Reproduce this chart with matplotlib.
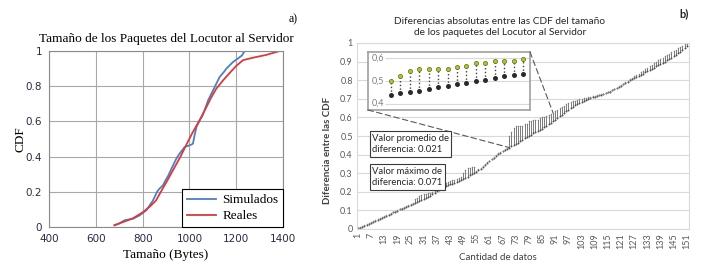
import matplotlib
matplotlib.use('Agg')
import matplotlib.pyplot as plt
from matplotlib.patches import ConnectionPatch
import numpy as np

W, H = 709, 273

# panel a) CDF curves
sim_x = [680, 700, 723, 759, 787, 816, 844, 862, 870, 887, 900, 909, 930, 945, 958, 980,
         1001, 1015, 1022, 1030, 1044, 1055, 1065, 1080, 1101, 1129, 1150, 1158, 1186,
         1208, 1225, 1236, 1386]
sim_y = [0.01, 0.02, 0.038, 0.047, 0.066, 0.095, 0.15, 0.20, 0.215, 0.237, 0.27, 0.29, 0.35,
         0.39, 0.417, 0.455, 0.464, 0.473, 0.52, 0.568, 0.606, 0.63, 0.663, 0.72, 0.776,
         0.852, 0.885, 0.9, 0.937, 0.958, 0.975, 1.0, 1.0]
real_x = [680, 720, 760, 802, 830, 857, 878, 906, 935, 962, 988, 1013, 1045, 1072, 1095,
          1115, 1145, 1172, 1200, 1229, 1272, 1329, 1386]
real_y = [0.01, 0.03, 0.05, 0.085, 0.115, 0.15, 0.20, 0.265, 0.335, 0.40, 0.47, 0.535, 0.61,
          0.68, 0.74, 0.786, 0.835, 0.875, 0.915, 0.948, 0.962, 0.978, 1.0]

# panel b) the two CDFs per data point
cats = np.arange(1, 152)
cdf_low = [0.005, 0.008, 0.012, 0.018, 0.022, 0.027, 0.032, 0.038, 0.043, 0.049,
           0.054, 0.060, 0.066, 0.071, 0.077, 0.083, 0.089, 0.094, 0.099, 0.105,
           0.110, 0.115, 0.120, 0.125, 0.130, 0.135, 0.140, 0.145, 0.150, 0.155,
           0.160, 0.165, 0.172, 0.180, 0.188, 0.196, 0.204, 0.212, 0.220,
           0.228, 0.232, 0.236, 0.240, 0.244, 0.248, 0.253, 0.258, 0.264, 0.270, 0.276,
           0.282, 0.288, 0.294, 0.300, 0.308, 0.316, 0.325, 0.334, 0.344, 0.354,
           0.364, 0.374, 0.384, 0.393, 0.401, 0.409, 0.417, 0.424, 0.431,
           0.438, 0.445, 0.453, 0.457, 0.465, 0.472, 0.480, 0.487, 0.493, 0.500,
           0.506, 0.514, 0.520, 0.528, 0.533,
           0.540, 0.547, 0.555, 0.563, 0.571, 0.580, 0.588, 0.597, 0.606, 0.615,
           0.624, 0.633, 0.641, 0.650, 0.658, 0.666,
           0.672, 0.678, 0.684, 0.689, 0.694, 0.699, 0.704, 0.708, 0.712, 0.715,
           0.718, 0.721, 0.725, 0.729, 0.734, 0.739, 0.745, 0.751, 0.757, 0.764,
           0.771, 0.778, 0.785, 0.792, 0.799,
           0.805, 0.811, 0.817, 0.823, 0.830, 0.836, 0.843, 0.849, 0.855, 0.861,
           0.867, 0.874, 0.880, 0.887, 0.894, 0.900, 0.907, 0.914, 0.921, 0.928,
           0.936, 0.945, 0.954, 0.964, 0.975, 0.985]
cdf_high = [0.007, 0.011, 0.016, 0.021, 0.027, 0.031, 0.038, 0.042, 0.049, 0.053,
            0.060, 0.064, 0.071, 0.075, 0.082, 0.087, 0.094, 0.098, 0.104, 0.109,
            0.115, 0.119, 0.125, 0.130, 0.136, 0.142, 0.160, 0.168, 0.176, 0.182,
            0.186, 0.190, 0.192, 0.195, 0.198, 0.203, 0.209, 0.216, 0.224,
            0.245, 0.250, 0.254, 0.258, 0.262, 0.265, 0.268, 0.272, 0.277, 0.300, 0.318,
            0.326, 0.330, 0.332, 0.333, 0.312, 0.320, 0.329, 0.338, 0.348, 0.358,
            0.368, 0.378, 0.388, 0.398, 0.406, 0.414, 0.422, 0.429, 0.436,
            0.500, 0.522, 0.543, 0.555, 0.555, 0.555, 0.555, 0.562, 0.567, 0.580,
            0.580, 0.588, 0.588, 0.588, 0.597,
            0.600, 0.603, 0.606, 0.612, 0.618, 0.625, 0.632, 0.640, 0.648, 0.655,
            0.663, 0.670, 0.676, 0.682, 0.686, 0.690,
            0.694, 0.697, 0.700, 0.703, 0.706, 0.709, 0.712, 0.714, 0.716, 0.718,
            0.721, 0.724, 0.728, 0.732, 0.737, 0.742, 0.748, 0.754, 0.760, 0.767,
            0.774, 0.781, 0.789, 0.797, 0.805,
            0.812, 0.820, 0.828, 0.836, 0.844, 0.852, 0.860, 0.868, 0.876, 0.884,
            0.892, 0.900, 0.908, 0.915, 0.922, 0.929, 0.936, 0.943, 0.950, 0.957,
            0.964, 0.971, 0.978, 0.985, 0.992, 1.000]
zoom_from, zoom_to = 70, 84      # points shown in the inset
link_to = 90                     # where the right zoom line lands
mean_text = 'Valor promedio de\ndiferencia: 0.021'
max_text = 'Valor máximo de\ndiferencia: 0.071'

low = np.array(cdf_low)
high = np.array(cdf_high)


def px_rect(l, t, r, b):
    return [l / W, 1 - b / H, (r - l) / W, (b - t) / H]


serif = 'Liberation Serif'
sans = 'Lato'

fig = plt.figure(figsize=(W / 100, H / 100), dpi=100)

# ---------- a)
ax1 = fig.add_axes(px_rect(49, 51, 283, 227))
ax1.plot(sim_x, sim_y, color='#4a7fc8', lw=1.3, label='Simulados')
ax1.plot(real_x, real_y, color='#d93a3a', lw=1.3, label='Reales')
ax1.set_xlim(400, 1400)
ax1.set_ylim(0, 1)
ax1.set_xticks(np.arange(400, 1401, 200))
ax1.set_yticks(np.arange(0, 1.01, 0.2))
ax1.set_yticklabels(['0', '0.2', '0.4', '0.6', '0.8', '1'])
ax1.grid(color='#a8a8a8', lw=0.8)
ax1.set_axisbelow(True)
for s in ax1.spines.values():
    s.set_color('#8a8a8a')
ax1.tick_params(length=0, labelsize=7.5, colors='#2a2a48', pad=5)
ax1.legend(loc='lower right', borderaxespad=0, fancybox=False, framealpha=1,
           edgecolor='black', handlelength=2.2, handletextpad=0.5,
           borderpad=0.35, labelspacing=0.3,
           prop={'family': serif, 'size': 9.5}).get_frame().set_linewidth(0.8)
fig.text(166 / W, 1 - 39 / H, 'Tamaño de los Paquetes del Locutor al Servidor',
         family=serif, fontsize=9.5, ha='center', va='center')
fig.text(166 / W, 1 - 255 / H, 'Tamaño (Bytes)', family=serif, fontsize=9.5,
         ha='center', va='center')
fig.text(20 / W, 1 - 139 / H, 'CDF', family=serif, fontsize=9.5, rotation=90,
         ha='center', va='center')
fig.text(293 / W, 1 - 19 / H, 'a)', family=serif, fontsize=8.5, ha='center', va='center')

# ---------- b)
ax2 = fig.add_axes(px_rect(357, 43, 689, 229))
ax2.vlines(cats, low, high, color='#7a7a7a', lw=0.7)
ax2.plot(cats, low, 'o', ms=1.4, color='#505050', mew=0)
ax2.plot(cats, high, 'o', ms=1.1, color='#808080', mew=0)
ax2.set_xlim(0.6, 152)
ax2.set_ylim(0, 1)
ax2.set_yticks(np.arange(0, 1.01, 0.1))
ax2.set_yticklabels(['0'] + ['%.1f' % v for v in np.arange(0.1, 0.95, 0.1)] + ['1'])
ax2.set_xticks(cats[::6])
ax2.set_xticklabels([str(c) for c in cats[::6]], rotation=90)
ax2.grid(axis='y', color='#d9d9d9', lw=0.8)
ax2.set_axisbelow(True)
for s in ax2.spines.values():
    s.set_color('#d9d9d9')
ax2.tick_params(length=0, labelsize=6.5, colors='#595959', pad=3)
for lab in ax2.get_xticklabels() + ax2.get_yticklabels():
    lab.set_family(sans)

fig.text(500 / W, 1 - 27 / H,
         'Diferencias absolutas entre las CDF del tamaño\nde los paquetes del Locutor al Servidor',
         family=sans, fontsize=7.3, ha='center', va='center', color='#262626',
         linespacing=1.3)
fig.text(498 / W, 1 - 257 / H, 'Cantidad de datos', family=sans, fontsize=7,
         ha='center', va='center', color='#404040')
fig.text(328 / W, 1 - 150 / H, 'Diferencia entre las CDF', family=sans, fontsize=7,
         weight='bold', rotation=90, ha='center', va='center', color='#404040')
fig.text(684 / W, 1 - 14 / H, 'b)', family=sans, fontsize=8, weight='bold',
         ha='center', va='center', color='#262626')

box = dict(boxstyle='square,pad=0.25', fc='white', ec='#3a3a3a', lw=0.8)
fig.text(372 / W, 1 - 144 / H, mean_text, family=sans, fontsize=6.8, color='#262626',
         ha='left', va='center', bbox=box, linespacing=1.35)
fig.text(372 / W, 1 - 177 / H, max_text, family=sans, fontsize=6.8, color='#262626',
         ha='left', va='center', bbox=box, linespacing=1.35)

# inset
ins = fig.add_axes(px_rect(368, 52, 530, 110))
idx = np.arange(zoom_to - zoom_from + 1)
sl = slice(zoom_from - 1, zoom_to)
ins.set_xlim(-2.44, 14.74)
ins.set_ylim(0.372, 0.628)
ins.hlines([0.4, 0.5, 0.6], -0.64, 14.74, color='#d9d9d9', lw=0.8)
ins.vlines(idx, low[sl], high[sl], color='#404040', lw=1.0, linestyles=':')
ins.plot(idx, low[sl], 'o', ms=3.6, color='#2a2a2a', mew=0)
ins.plot(idx, high[sl], 'o', ms=3.0, mfc='#b5c42e', mec='#5d6a12', mew=0.5)
for v, t in [(0.4, '0,4'), (0.5, '0,5'), (0.6, '0,6')]:
    ins.text(-0.74, v, t, family=sans, fontsize=6.5, color='#7f7f7f',
             ha='right', va='center')
ins.set_xticks([])
ins.set_yticks([])
for s in ins.spines.values():
    s.set_color('#a0a0a0')
    s.set_linewidth(1.2)

for xyA, xyB in [((0, 0), (zoom_from, low[zoom_from - 1])),
                 ((1, 1), (link_to, high[link_to - 1]))]:
    con = ConnectionPatch(xyA=xyA, coordsA=ins.transAxes, xyB=xyB, coordsB=ax2.transData,
                          color='#595959', lw=0.8, linestyle=(0, (5, 3)))
    fig.add_artist(con)

fig.savefig('out.png', dpi=100)
